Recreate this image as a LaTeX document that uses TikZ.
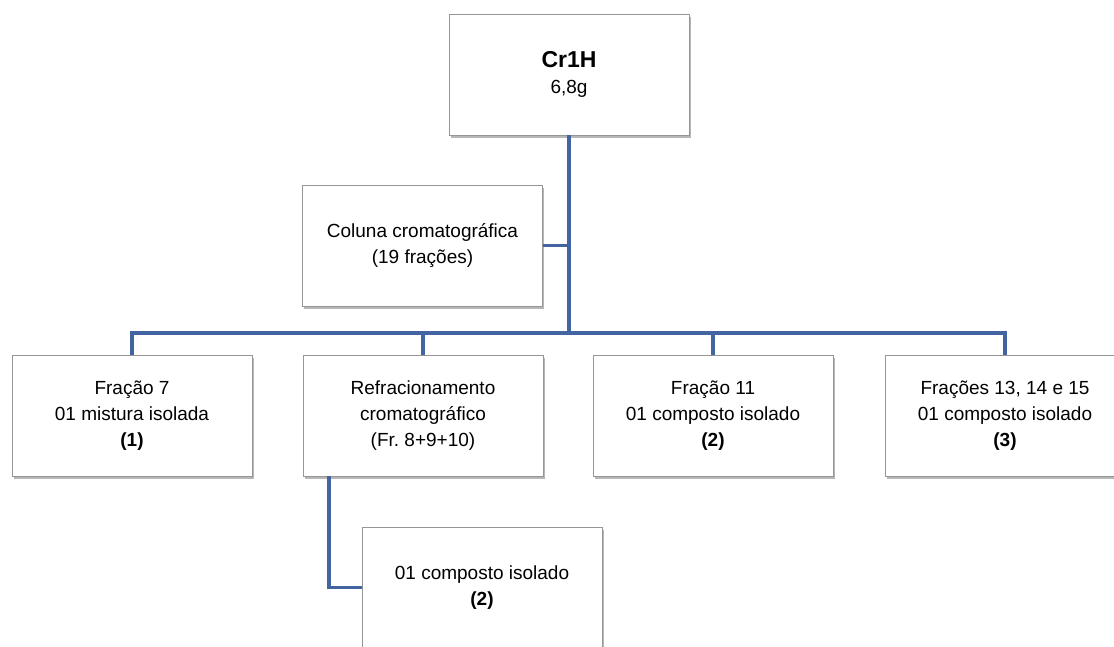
\documentclass[tikz,border=0pt]{standalone}
\usepackage{fontspec}
\setmainfont{Liberation Sans}
\usetikzlibrary{shadows}
\definecolor{linkblue}{RGB}{66,100,160}
\definecolor{boxedge}{RGB}{150,150,150}
\tikzset{
  stagebox/.style={draw=boxedge, line width=0.8pt, fill=white,
    minimum width=240pt, minimum height=121pt, inner sep=0pt,
    align=center, font=\fontsize{19}{26}\selectfont,
    drop shadow={shadow xshift=1.5pt, shadow yshift=-3pt, opacity=0.4, fill=black!70}},
  link/.style={draw=linkblue, line width=3.8pt}
}
\begin{document}
\begin{tikzpicture}[x=1pt, y=-1pt]
  \useasboundingbox (0,0) rectangle (1114,646);
  \clip (0,0) rectangle (1114,646);
  \fill[white] (0,0) rectangle (1114,646);

  % flow-chart stages
  \node[stagebox] (top) at (569,74.5)
    {{\fontsize{23}{29}\selectfont\bfseries Cr1H}\\6,8g};
  \node[stagebox] (col) at (422.5,245.5)
    {Coluna cromatográfica\\(19 frações)};
  \node[stagebox] (f7) at (132,415.5)
    {Fração 7\\01 mistura isolada\\\textbf{(1)}};
  \node[stagebox] (ref) at (423,415.5)
    {Refracionamento\\cromatográfico\\(Fr.\ 8+9+10)};
  \node[stagebox] (f11) at (713,415.5)
    {Fração 11\\01 composto isolado\\\textbf{(2)}};
  \node[stagebox] (f1315) at (1005,415.5)
    {Frações 13, 14 e 15\\01 composto isolado\\\textbf{(3)}};
  \node[stagebox] (comp) at (482,587.5)
    {01 composto isolado\\\textbf{(2)}};

  % distribution bus and branches
  \coordinate (bus) at (569,333);
  \draw[link] (top.south) -- (bus);
  \draw[link] (col.east) -- (col.east -| bus);
  \draw[link] (f7.north) -- (f7.north |- bus) -- (f1315.north |- bus) -- (f1315.north);
  \draw[link] (ref.north) -- (ref.north |- bus);
  \draw[link] (f11.north) -- (f11.north |- bus);
  \draw[link] ([xshift=-94pt]ref.south) |- (comp.west);
\end{tikzpicture}
\end{document}
